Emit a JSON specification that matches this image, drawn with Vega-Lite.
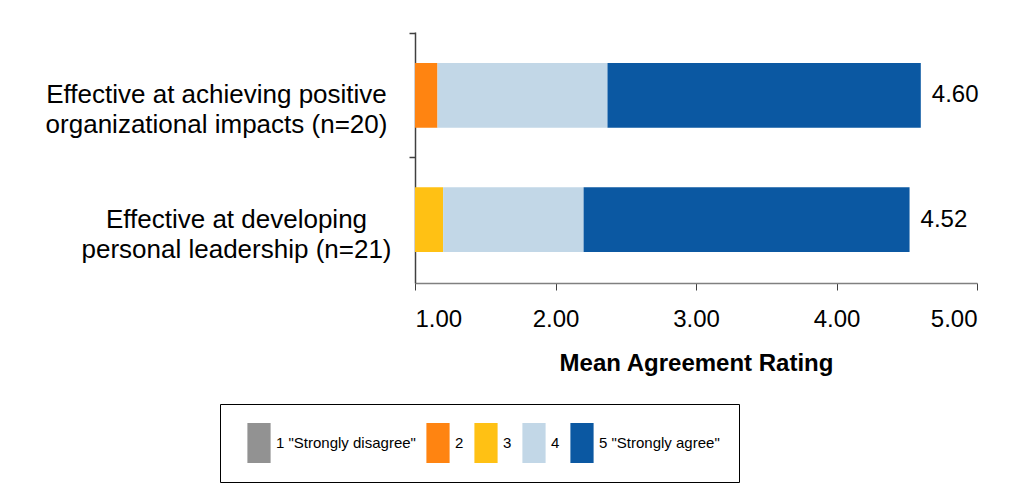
{
  "$schema": "https://vega.github.io/schema/vega-lite/v6.json",
  "width": 562,
  "height": 251,
  "autosize": {"type": "none"},
  "padding": {"left": 415, "top": 32, "right": 36, "bottom": 206},
  "background": "white",
  "config": {
    "view": {"stroke": null},
    "font": "Liberation Sans"
  },
  "datasets": {
    "segments": [
      {"item": "Organizational impacts", "rating": "2", "start": 1.0, "end": 1.16},
      {"item": "Organizational impacts", "rating": "4", "start": 1.16, "end": 2.37},
      {"item": "Organizational impacts", "rating": "5 \"Strongly agree\"", "start": 2.37, "end": 4.6},
      {"item": "Personal leadership", "rating": "3", "start": 1.0, "end": 1.2},
      {"item": "Personal leadership", "rating": "4", "start": 1.2, "end": 2.2},
      {"item": "Personal leadership", "rating": "5 \"Strongly agree\"", "start": 2.2, "end": 4.52}
    ],
    "means": [
      {"item": "Organizational impacts", "mean": 4.6},
      {"item": "Personal leadership", "mean": 4.52}
    ]
  },
  "resolve": {"axis": {"y": "independent"}},
  "layer": [
    {
      "data": {"name": "segments"},
      "mark": {"type": "bar"},
      "encoding": {
        "y": {
          "field": "item",
          "type": "nominal",
          "sort": ["Organizational impacts", "Personal leadership"],
          "scale": {"paddingInner": 0.48, "paddingOuter": 0.25},
          "axis": {
            "title": null,
            "orient": "left",
            "offset": 0,
            "domainColor": "#404040",
            "domainWidth": 1.5,
            "ticks": false,
            "labelAlign": "center",
            "labelBaseline": "middle",
            "labelPadding": {"condition": {"test": "datum.value == 'Organizational impacts'", "value": 199}, "value": 179},
            "labelLimit": 400,
            "labelFontSize": 26,
            "labelColor": "#000000",
            "labelLineHeight": 30,
            "labelExpr": "datum.value == 'Organizational impacts' ? ['Effective at achieving positive', 'organizational impacts (n=20)'] : ['Effective at developing', 'personal leadership (n=21)']"
          }
        },
        "x": {
          "field": "start",
          "type": "quantitative",
          "scale": {"domain": [1, 5], "nice": false, "zero": false},
          "axis": {
            "title": "Mean Agreement Rating",
            "values": [1, 2, 3, 4, 5],
            "format": ".2f",
            "grid": false,
            "domainColor": "#808080",
            "domainWidth": 1.5,
            "tickColor": "#404040",
            "tickSize": 7,
            "labelFontSize": 24,
            "labelColor": "#000000",
            "labelPadding": 17,
            "titleFontSize": 24,
            "titleFontWeight": "bold",
            "titleColor": "#000000",
            "titlePadding": 20
          }
        },
        "x2": {"field": "end"},
        "color": {
          "field": "rating",
          "type": "nominal",
          "scale": {
            "domain": ["1 \"Strongly disagree\"", "2", "3", "4", "5 \"Strongly agree\""],
            "range": ["#929292", "#FF8411", "#FFC114", "#C2D7E7", "#0B58A2"]
          },
          "legend": {
            "title": null,
            "orient": "none",
            "legendX": -195,
            "legendY": 372,
            "direction": "horizontal",
            "columns": 5,
            "symbolType": "M-0.58,-1L0.58,-1L0.58,1L-0.58,1Z",
            "symbolSize": 1600,
            "symbolStrokeWidth": 0,
            "symbolOpacity": 1,
            "labelFontSize": 15,
            "labelLimit": 300,
            "labelColor": "#000000",
            "labelOffset": -3,
            "columnPadding": 2,
            "padding": 19,
            "strokeColor": "#000000",
            "fillColor": "#ffffff"
          }
        }
      }
    },
    {
      "data": {"name": "means"},
      "mark": {"type": "text", "align": "left", "baseline": "middle", "dx": 11, "fontSize": 24, "color": "#000000"},
      "encoding": {
        "y": {
          "field": "item",
          "type": "nominal",
          "sort": ["Organizational impacts", "Personal leadership"],
          "axis": {
            "title": null,
            "orient": "left",
            "offset": 0,
            "domain": false,
            "labels": false,
            "ticks": true,
            "bandPosition": -0.4615,
            "tickSize": 6,
            "tickColor": "#404040",
            "tickWidth": 1.5
          }
        },
        "x": {"field": "mean", "type": "quantitative"},
        "text": {"field": "mean", "type": "quantitative", "format": ".2f"}
      }
    }
  ]
}
